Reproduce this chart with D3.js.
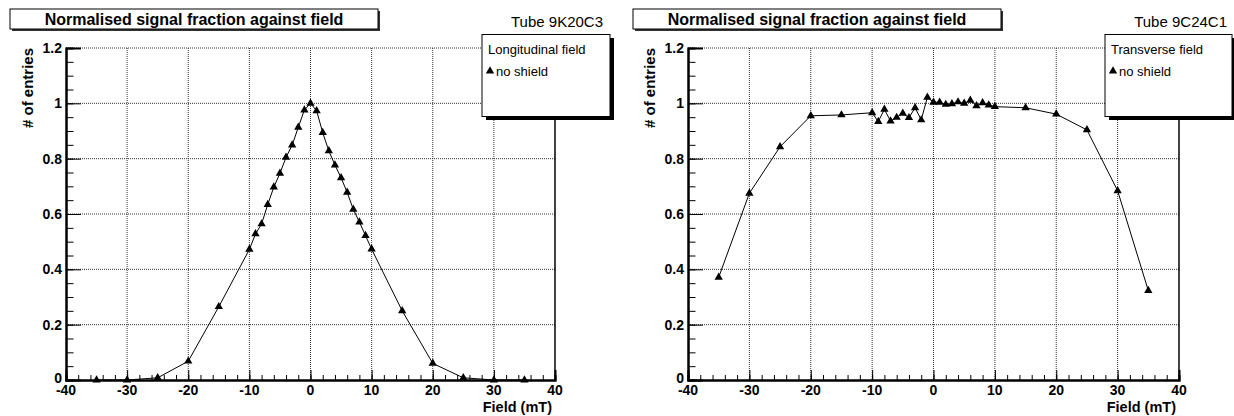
<!DOCTYPE html>
<html>
<head>
<meta charset="utf-8">
<script src="https://cdn.jsdelivr.net/npm/d3@7"></script>
<style>
  body { margin: 0; background: #fff; }
  svg { display: block; font-family: "Liberation Sans", Arial, sans-serif; }
  .grid { stroke: #333; stroke-width: 1; stroke-dasharray: 1,1; fill: none; }
</style>
</head>
<body>
<svg width="1234" height="416"></svg>
<script>
// field values (mT)
var fieldLong = [-35, -30, -25, -20, -15, -10, -9, -8, -7, -6, -5, -4, -3, -2, -1, 0,
                 1, 2, 3, 4, 5, 6, 7, 8, 9, 10, 15, 20, 25, 30, 35];
var fracLong  = [0, 0, 0.008, 0.068, 0.265, 0.472, 0.528, 0.564, 0.634, 0.697, 0.747, 0.805, 0.849, 0.913, 0.976, 1.0,
                 0.973, 0.894, 0.828, 0.777, 0.731, 0.678, 0.617, 0.571, 0.522, 0.473, 0.25, 0.06, 0.008, 0, 0];

var fieldTrans = [-35, -30, -25, -20, -15, -10, -9, -8, -7, -6, -5, -4, -3, -2, -1, 0,
                  1, 2, 3, 4, 5, 6, 7, 8, 9, 10, 15, 20, 25, 30, 35];
var fracTrans  = [0.371, 0.675, 0.843, 0.955, 0.958, 0.966, 0.934, 0.978, 0.936, 0.949, 0.964, 0.948, 0.984, 0.94, 1.022, 1.004,
                  1.004, 0.996, 0.998, 1.005, 1.0, 1.011, 0.991, 1.002, 0.994, 0.988, 0.984, 0.961, 0.904, 0.684, 0.323];

var xMajorTicks = [-40, -30, -20, -10, 0, 10, 20, 30, 40];
var yMajorTicks = [0, 0.2, 0.4, 0.6, 0.8, 1, 1.2];
var plotTitle = "Normalised signal fraction against field";

var svg = d3.select("svg");

function drawPanel(p) {
    var x = d3.scaleLinear().domain([-40, 40]).range([p.left, p.right]);
    var y = d3.scaleLinear().domain([0, 1.2]).range([p.bottom, p.top]);
    var g = svg.append("g");

    // title box with shadow
    g.append("rect").attr("x", p.titleX + 2).attr("y", 11).attr("width", p.titleW).attr("height", 20).attr("fill", "#333");
    g.append("rect").attr("x", p.titleX).attr("y", 9).attr("width", p.titleW).attr("height", 20)
        .attr("fill", "#fff").attr("stroke", "#000").attr("stroke-width", 1);
    g.append("text").attr("x", p.titleX + p.titleW / 2).attr("y", 24.5)
        .attr("text-anchor", "middle").attr("font-weight", "bold").attr("font-size", "16px")
        .text(plotTitle);

    g.append("text").attr("x", p.tubeX).attr("y", 27).attr("text-anchor", "end")
        .attr("font-size", "15px").text(p.tube);

    // grid
    g.selectAll("line.gx").data(xMajorTicks.slice(1, -1)).enter().append("line")
        .attr("class", "grid").attr("x1", x).attr("x2", x).attr("y1", p.top).attr("y2", p.bottom);
    g.selectAll("line.gy").data(yMajorTicks.slice(1)).enter().append("line")
        .attr("class", "grid").attr("y1", y).attr("y2", y).attr("x1", p.left).attr("x2", p.right);

    // frame
    g.append("line").attr("x1", p.right).attr("x2", p.right).attr("y1", p.top).attr("y2", p.bottom)
        .attr("stroke", "#000").attr("stroke-width", 1.5);

    // x axis (ticks inside the frame)
    var xAxis = d3.axisTop(x).tickValues(xMajorTicks).tickSize(10).tickFormat("");
    var xMinor = d3.axisTop(x).tickValues(d3.range(-40, 41, 2)).tickSize(5).tickFormat("");
    g.append("g").attr("transform", "translate(0," + p.bottom + ")").call(xMinor);
    g.append("g").attr("transform", "translate(0," + p.bottom + ")").call(xAxis);
    g.selectAll("text.xl").data(xMajorTicks).enter().append("text")
        .attr("x", x).attr("y", p.bottom + 14.5).attr("text-anchor", "middle")
        .attr("font-weight", "bold").attr("font-size", "14px").text(function(d) { return d; });

    // y axis
    var yAxis = d3.axisRight(y).tickValues(yMajorTicks).tickSize(15).tickFormat("");
    var yMinor = d3.axisRight(y).tickValues(d3.range(0, 1.2001, 0.05)).tickSize(7.5).tickFormat("");
    g.append("g").attr("transform", "translate(" + p.left + ",0)").call(yMinor);
    g.append("g").attr("transform", "translate(" + p.left + ",0)").call(yAxis);
    g.selectAll("text.yl").data(yMajorTicks).enter().append("text")
        .attr("x", p.left - 4).attr("y", function(d) { return y(d) + (d === 0 ? 3 : 5); }).attr("text-anchor", "end")
        .attr("font-weight", "bold").attr("font-size", "14px").text(function(d) { return d; });

    g.selectAll(".domain").attr("stroke", "#000").attr("stroke-width", 2);
    g.selectAll(".tick line").attr("stroke", "#000").attr("stroke-width", 1);

    // axis titles
    g.append("text").attr("x", p.right - 3).attr("y", p.bottom + 32).attr("text-anchor", "end")
        .attr("font-weight", "bold").attr("font-size", "14.5px").text("Field (mT)");
    g.append("text").attr("transform", "translate(" + (p.left - 33) + "," + p.top + ") rotate(-90)")
        .attr("text-anchor", "end").attr("font-weight", "bold").attr("font-size", "15px")
        .text("# of entries");

    // data line and markers
    var pts = p.xs.map(function(d, i) { return [d, p.ys[i]]; });
    var line = d3.line().x(function(d) { return x(d[0]); }).y(function(d) { return y(d[1]); });
    g.append("path").datum(pts).attr("d", line).attr("fill", "none").attr("stroke", "#000").attr("stroke-width", 1);
    g.selectAll("path.m").data(pts).enter().append("path")
        .attr("transform", function(d) { return "translate(" + x(d[0]) + "," + y(d[1]) + ")"; })
        .attr("d", d3.symbol(d3.symbolTriangle, 30)).attr("fill", "#000");

    // legend
    var lx = p.legX, lw = p.legW;
    g.append("rect").attr("x", lx + 4).attr("y", 38).attr("width", lw).attr("height", 82).attr("fill", "#000");
    g.append("rect").attr("x", lx).attr("y", 34.5).attr("width", lw).attr("height", 82)
        .attr("fill", "#fff").attr("stroke", "#000").attr("stroke-width", 1);
    g.append("text").attr("x", lx + 6).attr("y", 54).attr("font-size", "13px").text(p.legTitle);
    g.append("path").attr("transform", "translate(" + (lx + 8) + ",71)")
        .attr("d", d3.symbol(d3.symbolTriangle, 30)).attr("fill", "#000");
    g.append("text").attr("x", lx + 14).attr("y", 75.5).attr("font-size", "13px").text("no shield");
}

drawPanel({left: 66, right: 555, top: 48, bottom: 380, titleX: 10, titleW: 368,
           tube: "Tube 9K20C3", tubeX: 603, legX: 482, legW: 128,
           legTitle: "Longitudinal field", xs: fieldLong, ys: fracLong});
drawPanel({left: 688, right: 1179, top: 48, bottom: 380, titleX: 633, titleW: 368,
           tube: "Tube 9C24C1", tubeX: 1227, legX: 1105, legW: 127,
           legTitle: "Transverse field", xs: fieldTrans, ys: fracTrans});
</script>
</body>
</html>
